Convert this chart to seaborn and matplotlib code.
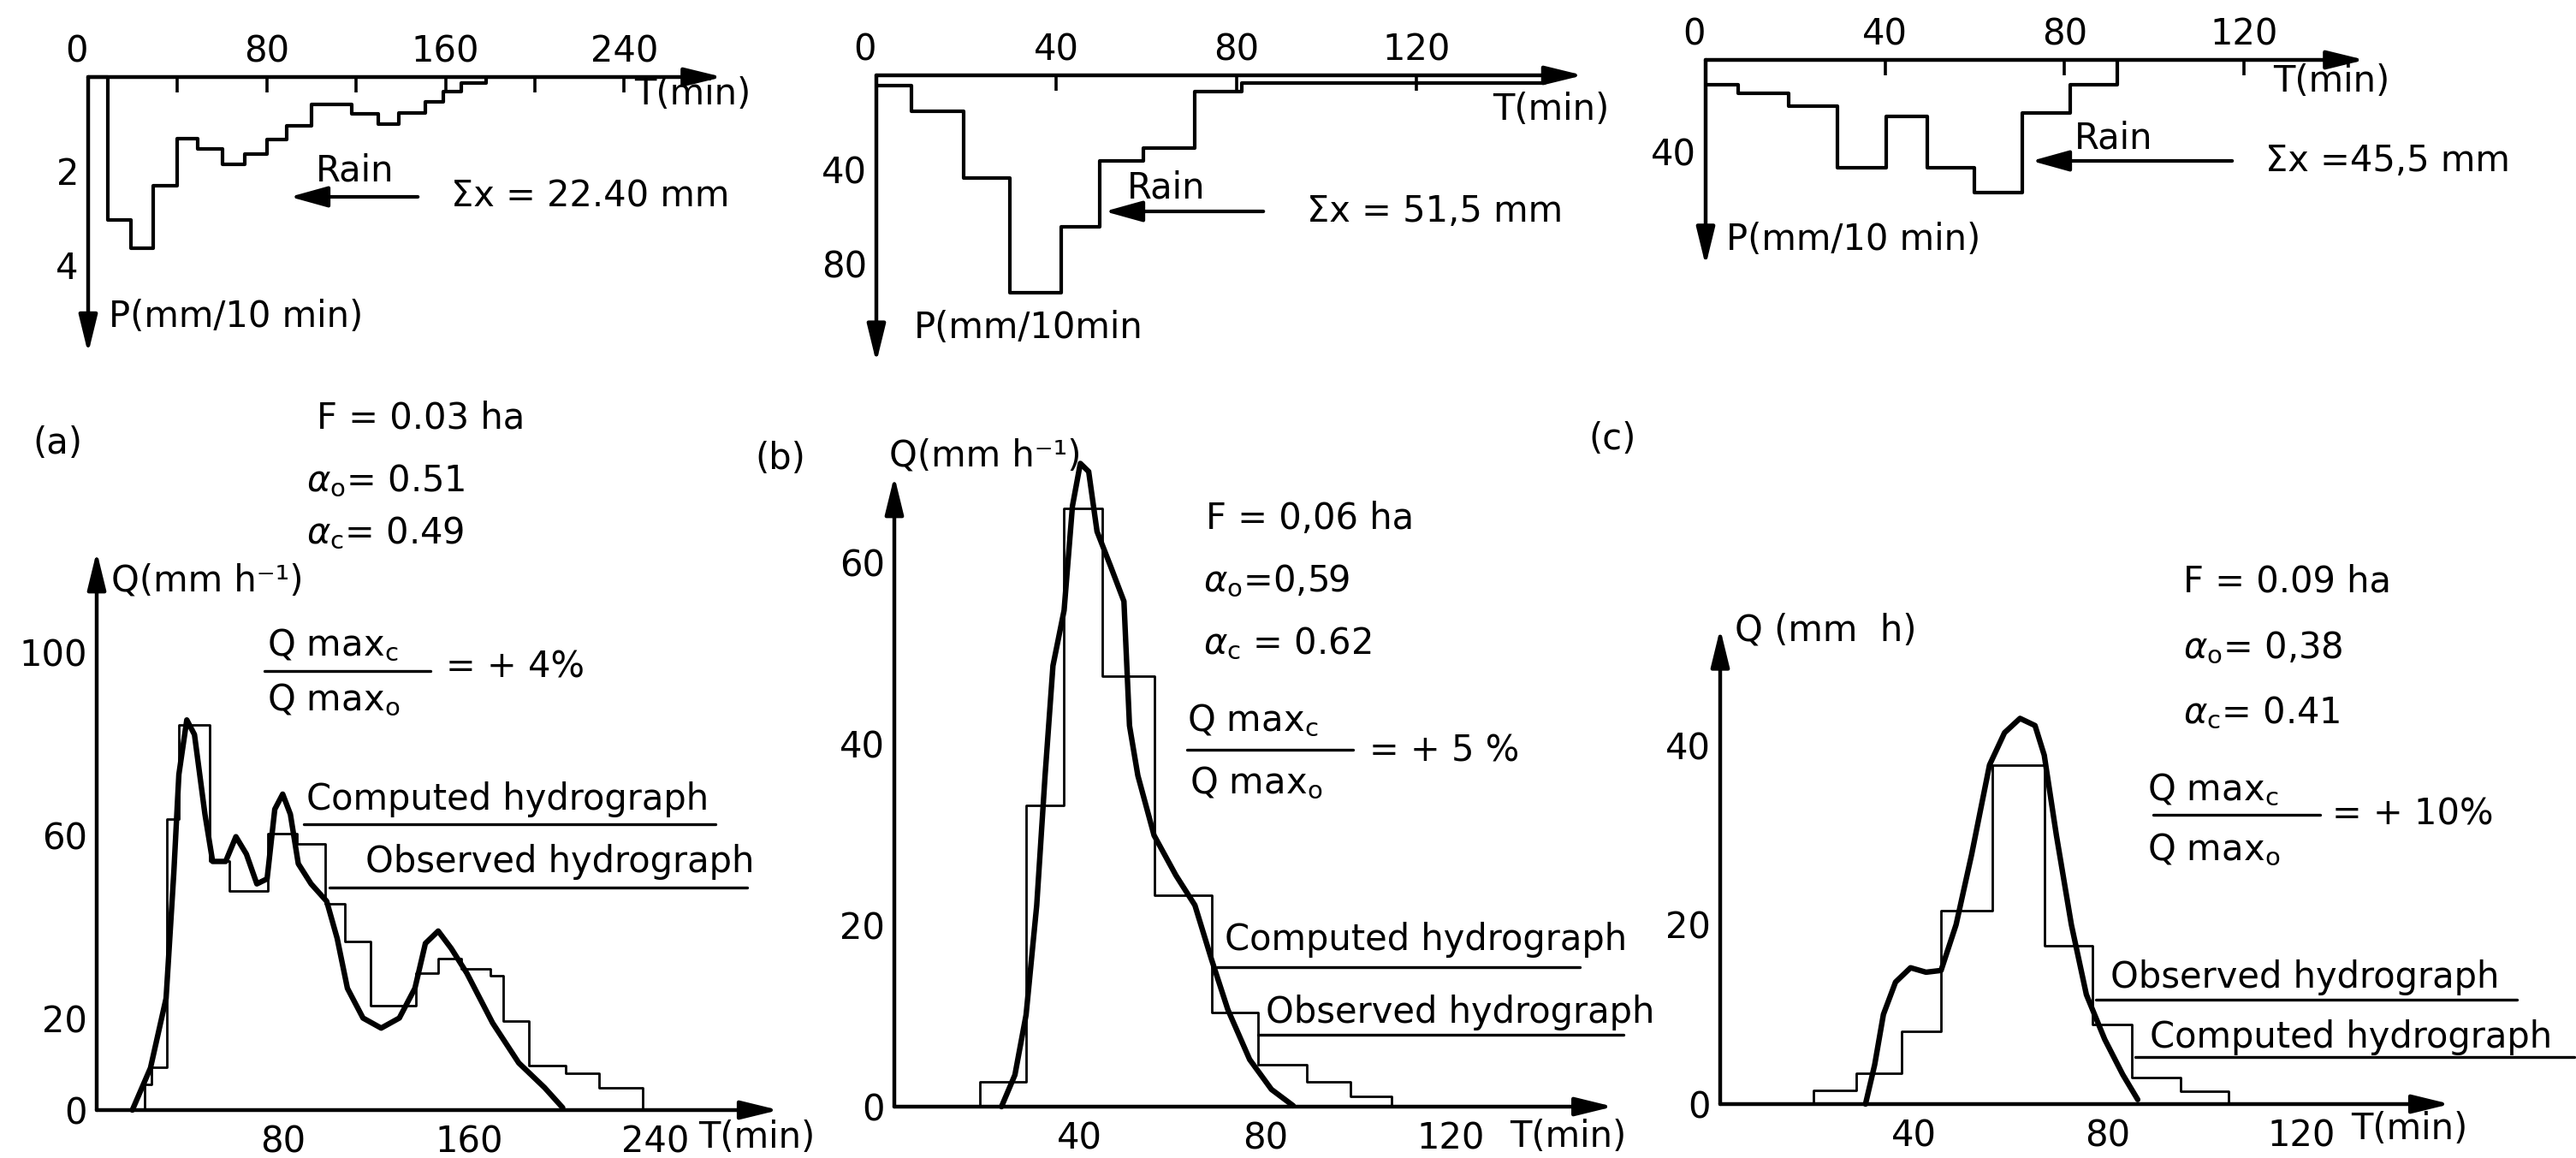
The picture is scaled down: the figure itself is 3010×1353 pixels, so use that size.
import matplotlib

matplotlib.use("Agg")
import matplotlib.pyplot as plt
from matplotlib.lines import Line2D
from matplotlib.patches import FancyArrowPatch
import pandas as pd
import seaborn as sns

# ---- data ----
# rain hyetographs: step start times (min) and depth as drawn on the P axis
rain_a_t = [0, 9, 19, 29, 40, 49, 60, 70, 80, 89, 100, 118, 130, 139, 151, 159, 167, 178]
rain_a_p = [0, 3.03, 3.64, 2.30, 1.30, 1.52, 1.85, 1.64, 1.33, 1.03, 0.58, 0.79, 1.00, 0.76, 0.52, 0.30, 0.12, 0]
rain_b_t = [0, 7.8, 19.3, 29.6, 41.1, 49.6, 59.3, 70.8, 81.1, 148.4]
rain_b_p = [4.4, 15.3, 43.8, 92.2, 64.4, 36.5, 31.0, 6.8, 3.2, 3.2]
rain_c_t = [0, 7.3, 18.5, 29.3, 40.3, 49.4, 59.9, 70.7, 81.3, 91.7]
rain_c_p = [11.0, 14.7, 20.2, 47.2, 24.7, 47.2, 58.0, 23.1, 11.0, 0]

# observed hydrographs (stepped)
obs_a_t = [0, 20.5, 23.5, 30, 35.3, 48.7, 57, 73.5, 86, 98.3, 106.6, 117.8, 137.3, 146.7, 156.7,
           169, 174.6, 185.7, 201.3, 215.8, 234.7]
obs_a_q = [0, 5.6, 9.3, 63.5, 84.2, 54.3, 47.8, 60.3, 58.1, 45.1, 36.9, 22.8, 29.9, 33.1, 30.9,
           29.4, 19.5, 9.8, 8.1, 4.9, 0]
obs_b_t = [0, 18.4, 28.4, 36.6, 44.8, 56, 68.4, 78.4, 89, 98.4, 107.2]
obs_b_q = [0, 2.7, 33.2, 65.9, 47.5, 23.3, 10.4, 4.65, 2.7, 1.1, 0]
obs_c_t = [0, 19.3, 28.1, 37.5, 45.6, 56.2, 66.9, 76.9, 85, 95, 105]
obs_c_q = [0, 1.5, 3.4, 8.1, 21.6, 37.8, 17.7, 8.9, 3.0, 1.4, 0]

# computed hydrographs (smooth)
comp_a_t = [15.3, 23.1, 29.8, 33.1, 35.3, 38.7, 42, 46.5, 49.8, 55.4, 59.8, 64.3, 68.8, 73.2, 76.5,
            79.9, 83.2, 86.6, 92.1, 98.8, 103.3, 107.7, 114.4, 122.2, 130, 136.7, 141.2, 146.7,
            152.3, 159, 170.1, 181.3, 192.4, 200.2]
comp_a_q = [0, 9.2, 24.4, 51.6, 73.3, 85.2, 82, 64.6, 54.3, 54.3, 59.7, 55.9, 49.4, 50.5, 65.7,
            69, 64.6, 53.8, 49.4, 45.6, 37.5, 26.6, 20.1, 17.9, 20.1, 26.6, 36.4, 39.1,
            35.3, 29.9, 19, 10.3, 4.9, 0.5]
comp_b_t = [23.1, 26, 28.4, 30.7, 32.5, 34.2, 36.6, 38.4, 40.1, 41.9, 43.7, 46.6, 49.5, 50.7,
            52.5, 56, 60.7, 64.8, 68.4, 71.9, 76.6, 81.3, 86]
comp_b_q = [0, 3.5, 10.1, 22.2, 36.5, 48.6, 54.7, 66.2, 70.9, 70, 63.4, 59.6, 55.7, 42,
            36.5, 29.9, 25.5, 22.2, 16.2, 10.7, 5.2, 1.9, 0.1]
comp_c_t = [30, 31.9, 33.7, 36.2, 39.3, 42.5, 45.6, 48.7, 51.9, 55.6, 58.7, 61.9, 65, 66.9,
            69.4, 72.5, 75.6, 79.4, 83.1, 86.2]
comp_c_q = [0, 4.4, 10, 13.6, 15.2, 14.7, 14.9, 20, 27.8, 37.8, 41.4, 43, 42.2, 38.9,
            30, 20, 12.2, 7.2, 3.3, 0.5]

# ---- style ----
sns.set_theme(style="white")
plt.rcParams["font.family"] = ["DejaVu Sans"]
plt.rcParams["mathtext.fontset"] = "dejavusans"
FS = 30
W, H = 3010, 1353
fig = plt.figure(figsize=(W / 100, H / 100), dpi=100)
fig.patch.set_facecolor("white")


def place(x0, y0, sx, sy, xmax, ymax, rain):
    """axes whose origin sits at pixel (x0, y0), sx/sy = pixels per unit"""
    w, h = xmax * sx, ymax * sy
    bottom = H - (y0 + h) if rain else H - y0
    ax = fig.add_axes([x0 / W, bottom / H, w / W, h / H])
    ax.set_xlim(0, xmax)
    ax.set_ylim((ymax, 0) if rain else (0, ymax))
    ax.set_facecolor("none")
    for s in ax.spines.values():
        s.set_visible(False)
    arrow = dict(arrowstyle="-|>,head_length=0.9,head_width=0.22", color="black", lw=3.2,
                 shrinkA=0, shrinkB=0, mutation_scale=30)
    if rain:
        ax.annotate("", xy=(1, 1), xytext=(0, 1), xycoords="axes fraction", arrowprops=arrow,
                    annotation_clip=False)
        ax.annotate("", xy=(0, 0), xytext=(0, 1), xycoords="axes fraction", arrowprops=arrow,
                    annotation_clip=False)
        ax.xaxis.set_ticks_position("top")
    else:
        ax.annotate("", xy=(1, 0), xytext=(0, 0), xycoords="axes fraction", arrowprops=arrow,
                    annotation_clip=False)
        ax.annotate("", xy=(0, 1), xytext=(0, 0), xycoords="axes fraction", arrowprops=arrow,
                    annotation_clip=False)
    ax.tick_params(direction="in", length=13, width=2.6, labelsize=FS, colors="black")
    ax.tick_params(axis="x", pad=6 if rain else 12)
    ax.tick_params(axis="y", pad=8)
    return ax


def ticks(ax, xt, xl, yt, yl):
    ax.set_xticks(xt)
    ax.set_xticklabels(xl)
    ax.set_yticks(yt)
    ax.set_yticklabels(yl)


def draw_step(ax, t, v, lw):
    df = pd.DataFrame({"t": t, "v": v})
    sns.lineplot(data=df, x="t", y="v", drawstyle="steps-post", estimator=None, sort=False,
                 color="black", linewidth=lw, ax=ax, clip_on=False)


def draw_curve(ax, t, v):
    df = pd.DataFrame({"t": t, "v": v})
    sns.lineplot(data=df, x="t", y="v", estimator=None, sort=False, color="black",
                 linewidth=4.6, ax=ax, clip_on=False, solid_capstyle="round",
                 solid_joinstyle="round")


def put(x, y, s, ha="left", size=FS):
    fig.text(x / W, 1 - y / H, s, ha=ha, va="center", fontsize=size, color="black")


def rule(x1, x2, y, lw=2.4):
    fig.add_artist(Line2D([x1 / W, x2 / W], [1 - y / H, 1 - y / H], transform=fig.transFigure,
                          color="black", lw=lw))


def pointer(x_tail, x_tip, y):
    fig.add_artist(FancyArrowPatch((x_tail / W, 1 - y / H), (x_tip / W, 1 - y / H),
                                   transform=fig.transFigure, color="black", lw=3,
                                   arrowstyle="-|>,head_length=0.9,head_width=0.25",
                                   mutation_scale=30))


# ---- rain panels ----
ra = place(103, 90, 2.61, 55, 284, 5.87, True)
ticks(ra, [0, 40, 80, 120, 160, 200, 240], ["0", "", "80", "", "160", "", "240"],
      [1, 2, 3, 4], ["", "2", "", "4"])
draw_step(ra, rain_a_t, rain_a_p, 3.0)

rb = place(1024, 88, 5.26, 2.75, 157, 122, True)
ticks(rb, [0, 40, 80, 120], ["0", "40", "80", "120"], [20, 40, 60, 80, 100], ["", "40", "", "80", ""])
draw_step(rb, rain_b_t, rain_b_p, 3.0)

rc = place(1993, 70, 5.24, 2.67, 147, 90, True)
ticks(rc, [0, 40, 80, 120], ["0", "40", "80", "120"], [20, 40, 60], ["", "40", ""])
draw_step(rc, rain_c_t, rain_c_p, 3.0)

for ax in (ra, rb, rc):
    ax.get_xticklabels()[0].set_ha("right")
    ax.set_xlabel("")
    ax.set_ylabel("")

put(809, 110, "T(min)", "center")
put(127, 370, "P(mm/10 min)")
put(415, 200, "Rain", "center")
pointer(491, 336, 230)
put(527, 230, "Σx = 22.40 mm")

put(1812, 128, "T(min)", "center")
put(1068, 383, "P(mm/10min")
put(1363, 220, "Rain", "center")
pointer(1479, 1288, 247)
put(1527, 247, "Σx = 51,5 mm")

put(2724, 95, "T(min)", "center")
put(2017, 280, "P(mm/10 min)")
put(2470, 161, "Rain", "center")
pointer(2611, 2371, 188)
put(2647, 188, "Σx =45,5 mm")

# ---- hydrograph panels ----
ha_ = place(113, 1297, 2.72, 5.35, 293, 122, False)
ticks(ha_, [0, 40, 80, 120, 160, 200, 240], ["", "", "80", "", "160", "", "240"],
      [0, 20, 40, 60, 80, 100], ["0", "20", "", "60", "", "100"])
draw_step(ha_, obs_a_t, obs_a_q, 2.0)
draw_curve(ha_, comp_a_t, comp_a_q)

hb = place(1045, 1293, 5.42, 10.6, 155, 69.5, False)
ticks(hb, [0, 20, 40, 60, 80, 100, 120], ["", "", "40", "", "80", "", "120"],
      [0, 10, 20, 30, 40, 50, 60], ["0", "", "20", "", "40", "", "60"])
draw_step(hb, obs_b_t, obs_b_q, 2.0)
draw_curve(hb, comp_b_t, comp_b_q)

hc = place(2010, 1290, 5.66, 10.48, 150.7, 53, False)
ticks(hc, [0, 20, 40, 60, 80, 100, 120], ["", "", "40", "", "80", "", "120"],
      [0, 10, 20, 30, 40], ["0", "", "20", "", "40"])
draw_step(hc, obs_c_t, obs_c_q, 2.0)
draw_curve(hc, comp_c_t, comp_c_q)

for ax in (ha_, hb, hc):
    ax.set_xlabel("")
    ax.set_ylabel("")

# panel (a) annotations
put(67, 518, "(a)", "center")
put(370, 489, "F = 0.03 ha")
put(358, 562, r"$\alpha_\mathrm{o}$= 0.51")
put(358, 623, r"$\alpha_\mathrm{c}$= 0.49")
put(130, 678, "Q(mm h⁻¹)")
put(312, 754, r"Q max$_\mathrm{c}$")
rule(309, 503, 784)
put(312, 818, r"Q max$_\mathrm{o}$")
put(521, 780, "= + 4%")
put(358, 934, "Computed hydrograph")
rule(355, 836, 963)
put(427, 1007, "Observed hydrograph")
rule(385, 873, 1037)
put(884, 1329, "T(min)", "center")

# panel (b) annotations
put(912, 536, "(b)", "center")
put(1039, 533, "Q(mm h⁻¹)")
put(1409, 606, "F = 0,06 ha")
put(1406, 679, r"$\alpha_\mathrm{o}$=0,59")
put(1406, 752, r"$\alpha_\mathrm{c}$ = 0.62")
put(1387, 842, r"Q max$_\mathrm{c}$")
rule(1387, 1581, 876)
put(1390, 915, r"Q max$_\mathrm{o}$")
put(1600, 877, "= + 5 %")
put(1431, 1098, "Computed hydrograph")
rule(1422, 1846, 1130)
put(1479, 1183, "Observed hydrograph")
rule(1470, 1897, 1209)
put(1832, 1328, "T(min)", "center")

# panel (c) annotations
put(1884, 513, "(c)", "center")
put(2027, 737, "Q (mm  h)")
put(2551, 679, "F = 0.09 ha")
put(2551, 757, r"$\alpha_\mathrm{o}$= 0,38")
put(2551, 833, r"$\alpha_\mathrm{c}$= 0.41")
put(2509, 923, r"Q max$_\mathrm{c}$")
rule(2516, 2711, 952)
put(2509, 993, r"Q max$_\mathrm{o}$")
put(2725, 952, "= + 10%")
put(2466, 1142, "Observed hydrograph")
rule(2449, 2941, 1168)
put(2512, 1212, "Computed hydrograph")
rule(2495, 3008, 1235)
put(2815, 1319, "T(min)", "center")

fig.savefig("out.png", dpi=100, facecolor="white")
plt.close(fig)
